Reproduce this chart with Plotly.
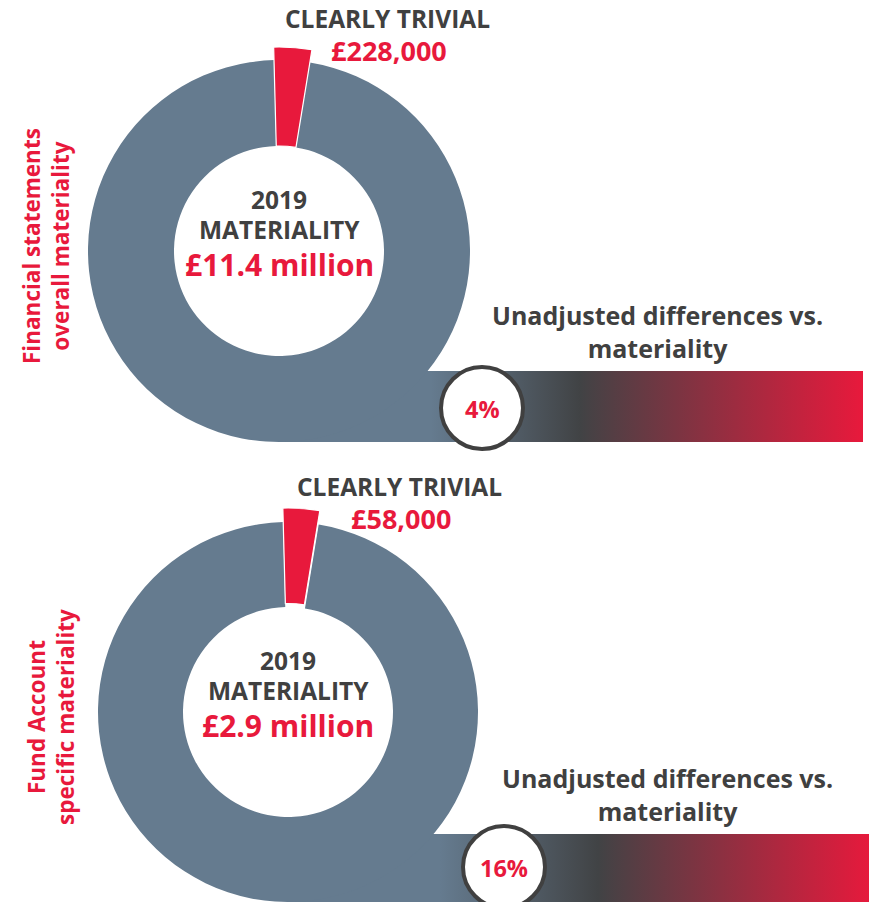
import plotly.graph_objects as go

# ---------------- data ----------------
panel_titles = ["Financial statements<br>overall materiality",
                "Fund Account<br>specific materiality"]
materiality_year = ["2019", "2019"]
materiality_labels = ["£11.4 million", "£2.9 million"]
trivial_labels = ["£228,000", "£58,000"]
unadjusted_labels = ["4%", "16%"]
# visual share of the ring taken by the "clearly trivial" slice (as drawn)
trivial_share = [3.0, 3.0]
remaining_share = [97.0, 97.0]

# ---------------- styling / layout ----------------
SW, SH = 877, 902          # window size
OFF = 8                    # default page body margin
W, H = SW - OFF, SH - OFF  # figure size
GRAY = "#657b8f"
DARK = "#404040"
RED = "#e8193c"
FONT = "Open Sans"

# donut geometry in screen pixels: centre x, centre y, outer R, red R, inner r
donuts = [dict(cx=279, cy=251, R=191, Rr=204, r=105),
          dict(cx=288, cy=712, R=190, Rr=204, r=105)]
bars = [dict(x0=279, x1=863, y0=371, y1=442, g0=0.26, g1=0.515),
        dict(x0=288, x1=873, y0=834, y1=902, g0=0.26, g1=0.53)]
circles = [dict(cx=482, cy=408, rad=41), dict(cx=504, cy=867, rad=41)]
text_pos = [dict(side_x=46, side_y=246, ct_x=387, ct_y=18, tv_y=50,
                 lbl_x=657, lbl_y=331),
            dict(side_x=51, side_y=717, ct_x=399, ct_y=486, tv_y=518,
                 lbl_x=667, lbl_y=794)]


def dom(cx, cy, r):
    x0 = max(0, (cx - r - OFF) / W)
    x1 = min(1, (cx + r - OFF) / W)
    y0 = max(0, 1 - (cy + r - OFF) / H)
    y1 = min(1, 1 - (cy - r - OFF) / H)
    return dict(x=[x0, x1], y=[y0, y1])


fig = go.Figure()

for i in range(2):
    b = bars[i]
    fig.add_trace(go.Scatter(
        x=[b["x0"], b["x1"], b["x1"], b["x0"], b["x0"]],
        y=[b["y0"], b["y0"], b["y1"], b["y1"], b["y0"]],
        mode="lines", line=dict(width=0), fill="toself",
        fillgradient=dict(type="horizontal",
                          colorscale=[[0, GRAY], [b["g0"], GRAY],
                                      [b["g1"], "#414345"], [1, RED]]),
        hoverinfo="skip", showlegend=False))

for i in range(2):
    d = donuts[i]
    vals = [trivial_share[i], remaining_share[i]]
    # grey remainder
    fig.add_trace(go.Pie(
        values=vals, labels=["Clearly trivial", "Materiality"],
        domain=dom(d["cx"], d["cy"], d["R"]), hole=d["r"] / d["R"],
        sort=False, direction="clockwise", rotation=-1.5,
        marker=dict(colors=["rgba(0,0,0,0)", GRAY], line=dict(width=0)),
        textinfo="none", hoverinfo="skip", showlegend=False))
    # red slice (larger outer radius)
    fig.add_trace(go.Pie(
        values=vals, labels=["Clearly trivial", "Materiality"],
        domain=dom(d["cx"], d["cy"], d["Rr"]), hole=d["r"] / d["Rr"],
        sort=False, direction="clockwise", rotation=-1.5,
        marker=dict(colors=[RED, "rgba(0,0,0,0)"],
                    line=dict(width=[1.2, 0], color="white")),
        textinfo="none", hoverinfo="skip", showlegend=False))

shapes = []
annotations = []


def ann(x, y, text, size, color, angle=0):
    annotations.append(dict(x=x, y=y, xref="x", yref="y", text=text,
                            showarrow=False, textangle=angle,
                            xanchor="center", yanchor="middle",
                            align="center",
                            font=dict(family=FONT, size=size, color=color)))


for i in range(2):
    c = circles[i]
    shapes.append(dict(type="circle", xref="x", yref="y",
                       x0=c["cx"] - c["rad"], x1=c["cx"] + c["rad"],
                       y0=c["cy"] - c["rad"], y1=c["cy"] + c["rad"],
                       fillcolor="white", line=dict(color=DARK, width=4),
                       layer="above"))
    t = text_pos[i]
    d = donuts[i]
    ann(t["side_x"], t["side_y"], "<b>" + panel_titles[i] + "</b>", 22.5, RED, -90)
    ann(t["ct_x"], t["ct_y"], "<b>CLEARLY TRIVIAL</b>", 24.5, DARK)
    ann(t["ct_x"] + 2, t["tv_y"], "<b>" + trivial_labels[i] + "</b>", 27, RED)
    ann(d["cx"], d["cy"] - 52, "<b>" + materiality_year[i] + "</b>", 24.5, DARK)
    ann(d["cx"], d["cy"] - 22, "<b>MATERIALITY</b>", 24.5, DARK)
    ann(d["cx"], d["cy"] + 13, "<b>" + materiality_labels[i] + "</b>", 30, RED)
    ann(t["lbl_x"], t["lbl_y"], "<b>Unadjusted differences vs.<br>materiality</b>",
        25, DARK)
    ann(c["cx"], c["cy"] + 1, "<b>" + unadjusted_labels[i] + "</b>", 23.5, RED)

fig.update_layout(
    width=W, height=H, margin=dict(l=0, r=0, t=0, b=0),
    paper_bgcolor="white", plot_bgcolor="white",
    xaxis=dict(range=[OFF, SW], visible=False, fixedrange=True),
    yaxis=dict(range=[SH, OFF], visible=False, fixedrange=True),
    shapes=shapes, annotations=annotations, showlegend=False)

fig.write_html("out.html")
